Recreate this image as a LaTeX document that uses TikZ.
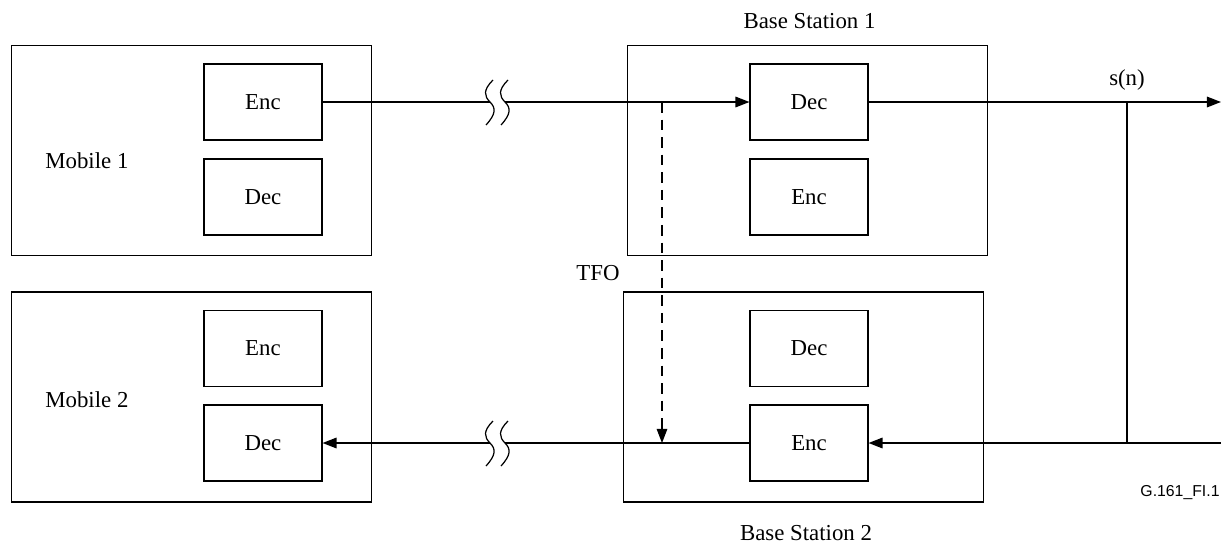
\documentclass[tikz,border=0pt]{standalone}
\usepackage{fontspec}
\setmainfont{Liberation Serif}
\newfontfamily\figfont{Liberation Sans}
\usepackage{tikz}
\usetikzlibrary{arrows.meta}

\tikzset{
  unitbox/.style={draw, line width=0.6pt, minimum width=7.2cm, minimum height=4.2cm},
  codecbox/.style={draw, line width=0.6pt, minimum width=2.36cm, minimum height=1.52cm},
  sigline/.style={line width=0.9pt},
  sigarrow/.style={sigline, -{Triangle[length=8pt,width=6pt]}},
  breakmark/.style={line width=0.7pt}
}

\begin{document}
\begin{tikzpicture}[x=0.02cm, y=-0.02cm, font=\fontsize{13}{15}\selectfont]
\useasboundingbox (0,0) rectangle (1221,548);

% Mobiles
\node[unitbox] (mob1) at (191.5,150.5) {};
\node[unitbox] (mob2) at (191.5,397) {};
\node[codecbox] (mob1enc) at (263,102) {Enc};
\node[codecbox] (mob1dec) at (263,197) {Dec};
\node[codecbox] (mob2enc) at (263,348.5) {Enc};
\node[codecbox] (mob2dec) at (263,443) {Dec};
\node[anchor=west, inner sep=0pt] (mob1lbl) at (45,161) {Mobile 1};
\node[anchor=west, inner sep=0pt] (mob2lbl) at (45,400) {Mobile 2};

% Base stations
\node[unitbox] (bs1) at (807.5,150.5) {};
\node[unitbox] (bs2) at (803.5,397) {};
\node[codecbox] (bs1dec) at (809,102) {Dec};
\node[codecbox] (bs1enc) at (809,197) {Enc};
\node[codecbox] (bs2dec) at (809,348.5) {Dec};
\node[codecbox] (bs2enc) at (809,443) {Enc};
\node (bs1lbl) at (809.5,21) {Base Station 1};
\node (bs2lbl) at (806,533) {Base Station 2};

% Break points and free ends
\coordinate (upbrkA) at (490,102);
\coordinate (upbrkB) at (505,102);
\coordinate (dnbrkA) at (505,443);
\coordinate (dnbrkB) at (490,443);
\coordinate (tfotop) at (662,102);
\coordinate (tfobot) at (662,443);
\coordinate (outend) at (1221,102);
\coordinate (inend) at (1221,443);
\coordinate (tapup) at (1127,102);
\coordinate (tapdn) at (1127,443);

% Uplink
\draw[sigline] (mob1enc.east) -- (upbrkA);
\draw[sigarrow] (upbrkB) -- (bs1dec.west);
\draw[sigarrow] (bs1dec.east) -- (outend);
\node (sn) at (1127,80) {s(n)};

% Downlink
\draw[sigline] (inend) -- (tapdn);
\draw[sigarrow] (tapdn) -- (bs2enc.east);
\draw[sigline] (bs2enc.west) -- (dnbrkA);
\draw[sigarrow] (dnbrkB) -- (mob2dec.east);
\draw[line width=0.6pt] (tapup) -- (tapdn);

% Break marks
\foreach \bx/\by in {490/102, 505/102, 490/443, 505/443}
  \draw[breakmark] (\bx+3,\by-22) .. controls (\bx-7,\by-12) and (\bx-6,\by-6) .. (\bx,\by)
    .. controls (\bx+6,\by+6) and (\bx+6,\by+12) .. (\bx-4,\by+23);

% TFO
\draw[line width=0.7pt, dash pattern=on 6pt off 4pt, -{Triangle[length=8pt,width=6pt]}] (tfotop) -- (tfobot);
\node (tfo) at (598,273) {TFO};

\node[font=\figfont\fontsize{9}{10}\selectfont] (figid) at (1180,493) {G.161\_FI.1};
\end{tikzpicture}
\end{document}
